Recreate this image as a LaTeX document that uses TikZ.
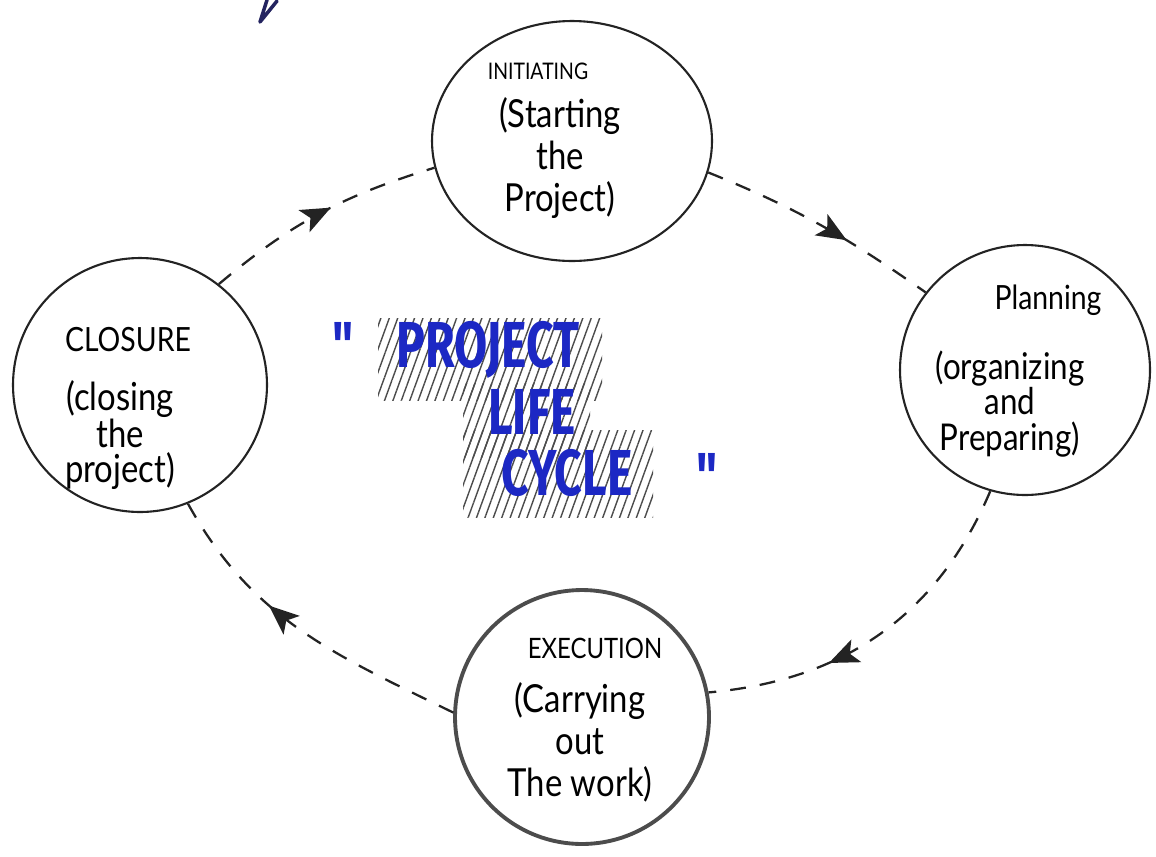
\documentclass[tikz,border=0pt]{standalone}
\usepackage{fontspec}
\setmainfont{Lato}
\newfontfamily\handfont[FakeStretch=0.85]{Lato}
\newfontfamily\titlefont[FakeStretch=0.74]{Fira Sans}
\usetikzlibrary{shapes.geometric,arrows.meta,decorations.markings,patterns.meta}
\definecolor{titleblue}{RGB}{28,40,196}
\definecolor{inkgray}{RGB}{35,35,35}
\definecolor{tickblue}{RGB}{35,35,95}
\tikzset{
  phase/.style={draw=inkgray, line width=1.2pt, circle, inner sep=0pt},
  headtext/.style={inner sep=0pt, text=black, font=\handfont\fontsize{16}{18}\selectfont},
  bodytext/.style={inner sep=0pt, align=center, text=black, font=\handfont\fontsize{22}{24}\selectfont},
  conn/.style={draw=inkgray, line width=1.3pt, dash pattern=on 9pt off 8pt},
  midarrow/.style={postaction={decorate, solid}, decoration={markings, mark=at position #1 with {\arrow{Stealth[length=17pt,width=14pt,inset=4pt]}}}},
  titletext/.style={inner sep=0pt, text=titleblue, font=\titlefont\bfseries\fontsize{37}{37}\selectfont},
  hatch/.style={pattern={Lines[angle=70,distance=4.5pt,line width=0.8pt]}, pattern color=black!70},
}
\begin{document}
\begin{tikzpicture}[x=0.02cm,y=-0.02cm]
\useasboundingbox (0,0) rectangle (1156,856);

% small blue stroke at the top
\draw[tickblue, line width=2pt, line cap=round, line join=round] (267,0) -- (260,22) -- (277,1);

% hatched background of the title
\fill[hatch] (378,318) rectangle (602,400);
\fill[hatch] (463,383) rectangle (590,457);
\fill[hatch] (463,430) rectangle (653,517);

% phases
\node[phase, minimum size=5.08cm] (clos) at (140,385) {};
\node[phase, ellipse, minimum width=5.6cm, minimum height=4.8cm] (init) at (572,141) {};
\node[phase, minimum size=5cm] (plan) at (1025,370) {};
\node[phase, minimum size=5.08cm, line width=2.2pt, draw=black!70] (exec) at (582,717) {};

% texts in the phases
\node[headtext, font=\handfont\fontsize{13}{15}\selectfont] (initH) at (538,71) {INITIATING};
\node[bodytext] (initB) at (560,158) {(Starting\\the\\Project)};

\node[headtext, font=\handfont\fontsize{19}{21}\selectfont] (planH) at (1048,300) {Planning};
\node[bodytext, font=\handfont\fontsize{21}{20}\selectfont] (planB) at (1010,404) {(organizing\\and\\Preparing)};

\node[headtext] (execH) at (595,648) {EXECUTION};
\node[bodytext] (execB) at (580,742) {(Carrying\\out\\The work)};

\node[headtext, font=\handfont\fontsize{19}{21}\selectfont] (closH) at (128,340) {CLOSURE};
\node[bodytext, font=\handfont\fontsize{22}{20}\selectfont] (closB) at (120,435) {(closing\\the\\project)};

% title
\node[titletext] (t1) at (488,350) {PROJECT};
\node[titletext] (t2) at (532,412) {LIFE};
\node[titletext] (t3) at (567,473) {CYCLE};
\node[titletext] (q1) at (343,345) {"};
\node[titletext] (q2) at (707,476) {"};

% connectors
\draw[conn, midarrow=0.55] (clos.52) to[out=40,in=197] (init.191);
\draw[conn, midarrow=0.62] (init.347) to[out=-22,in=145] (plan.142);
\draw[conn, midarrow=0.66] (plan.254) to[out=247,in=5] (exec.11);
\draw[conn, midarrow=0.62] (exec.178) to[out=154,in=299] (clos.292);
\end{tikzpicture}
\end{document}
